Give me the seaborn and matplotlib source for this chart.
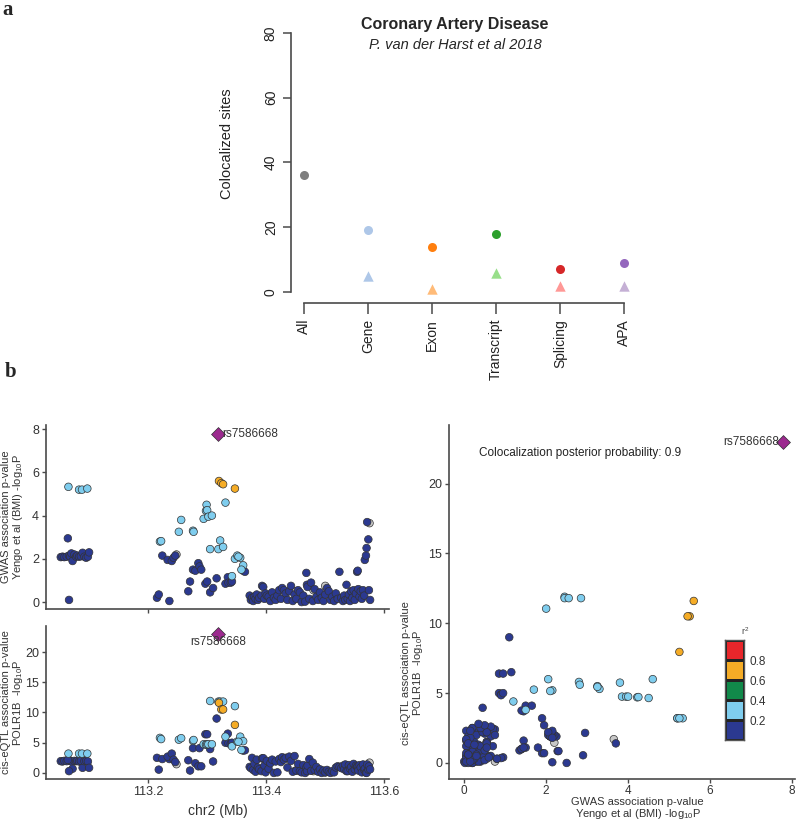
import numpy as np
import pandas as pd
import matplotlib
matplotlib.use('Agg')
import matplotlib.pyplot as plt
from matplotlib.colors import ListedColormap
import seaborn as sns

# ---- panel a : colocalized sites ----
categories = ['All', 'Gene', 'Exon', 'Transcript', 'Splicing', 'APA']
sites_all = [36, 19, 14, 18, 7, 9]
sites_cat = ['Gene', 'Exon', 'Transcript', 'Splicing', 'APA']
sites_tri = [5, 1, 6, 2, 2]
circle_pal = {'All': '#7f7f7f', 'Gene': '#aec7e8', 'Exon': '#ff7f0e',
              'Transcript': '#2ca02c', 'Splicing': '#d62728', 'APA': '#9467bd'}
tri_pal = {'Gene': '#aec7e8', 'Exon': '#ffbb78', 'Transcript': '#98df8a',
           'Splicing': '#ff9896', 'APA': '#c5b0d5'}

# ---- panel b : locus rs7586668 (chr2, Mb) ----
lead_pos, lead_gwas, lead_eqtl = 113.319, 7.78, 23.0

dark_pos = [113.052, 113.055, 113.058, 113.062, 113.066, 113.068, 113.070, 113.072, 113.075, 113.078,
            113.080, 113.083, 113.086, 113.089, 113.092, 113.095, 113.098, 113.100, 113.064, 113.066,
            113.215, 113.218, 113.236, 113.224, 113.233, 113.240, 113.243, 113.246, 113.268, 113.271,
            113.276, 113.280, 113.285, 113.287, 113.290, 113.297, 113.300, 113.305, 113.310, 113.316,
            113.331, 113.335, 113.336, 113.340, 113.342, 113.361, 113.364,
            113.372, 113.374, 113.376, 113.378, 113.380, 113.382, 113.384, 113.386, 113.388, 113.393,
            113.392, 113.395, 113.397, 113.399, 113.401, 113.404, 113.407, 113.410, 113.413, 113.416,
            113.419, 113.422, 113.425, 113.427, 113.430, 113.433, 113.436, 113.439, 113.442, 113.445,
            113.448, 113.451, 113.454, 113.457, 113.460, 113.463, 113.466, 113.468, 113.469, 113.470,
            113.473, 113.476, 113.479, 113.482, 113.485, 113.488, 113.491, 113.494, 113.497, 113.500,
            113.503, 113.506, 113.509, 113.512, 113.515, 113.518, 113.521, 113.524, 113.527, 113.530,
            113.532, 113.534, 113.536, 113.538, 113.540, 113.542, 113.544, 113.546, 113.548, 113.550,
            113.552, 113.554, 113.555, 113.556, 113.558, 113.560, 113.562, 113.564, 113.566, 113.567,
            113.569, 113.570, 113.571, 113.573, 113.574, 113.576]
dark_gwas = [2.08, 2.10, 2.08, 2.10, 2.15, 2.10, 2.25, 1.90, 2.20, 2.10,
             2.15, 2.10, 2.12, 2.28, 2.10, 2.05, 2.10, 2.30, 2.95, 0.10,
             0.20, 0.35, 0.05, 2.15, 1.95, 1.90, 2.05, 2.15, 0.50, 0.95,
             1.50, 1.45, 1.80, 1.65, 1.50, 0.85, 0.95, 0.45, 0.65, 1.10,
             0.85, 1.15, 0.90, 0.90, 0.95, 1.45, 1.40,
             0.30, 0.10, 0.20, 0.05, 0.25, 0.15, 0.35, 0.10, 0.20, 0.75,
             0.30, 0.70, 0.15, 0.40, 0.30, 0.25, 0.05, 0.45, 0.20, 0.10,
             0.30, 0.55, 0.15, 0.65, 0.55, 0.40, 0.10, 0.50, 0.75, 0.05,
             0.35, 0.15, 0.55, 0.45, 0.00, 0.30, 0.02, 1.35, 0.80, 0.70,
             0.15, 0.90, 0.05, 0.60, 0.25, 0.10, 0.45, 0.20, 0.05, 0.35,
             0.65, 0.50, 0.10, 0.25, 0.05, 0.40, 0.15, 1.40, 0.20, 0.05,
             0.30, 0.10, 0.80, 0.15, 0.35, 0.05, 0.50, 0.20, 0.55, 0.10,
             0.40, 1.40, 1.45, 0.60, 0.25, 0.50, 0.15, 0.55, 0.30, 1.95,
             2.15, 2.50, 3.70, 2.90, 0.55, 0.10]
dark_eqtl = [1.95, 1.90, 2.00, 1.95, 2.10, 2.00, 1.90, 0.70, 2.00, 1.95,
             2.00, 1.90, 2.00, 0.85, 1.95, 2.00, 1.90, 0.85, 2.15, 0.30,
             2.50, 0.55, 2.30, 2.30, 2.70, 3.20, 2.20, 1.80, 2.10, 0.40,
             4.10, 1.60, 1.10, 4.10, 1.10, 6.40, 6.40, 3.95, 1.90, 9.00,
             5.00, 6.50, 4.90, 4.85, 5.00, 3.70, 3.75,
             1.00, 0.80, 2.50, 0.50, 1.50, 0.20, 2.20, 0.90, 0.60, 2.40,
             0.30, 2.45, 1.20, 0.10, 2.00, 0.70, 1.60, 2.20, 0.00, 1.90,
             0.10, 2.30, 1.80, 2.60, 2.20, 2.50, 0.90, 2.70, 2.00, 0.20,
             2.80, 0.40, 1.50, 0.30, 0.10, 1.30, 0.00, 0.90, 0.30, 1.20,
             2.30, 0.35, 1.70, 0.50, 1.00, 0.20, 0.60, 0.00, 0.40, 0.10,
             0.50, 0.20, 0.00, 0.30, 0.10, 0.90, 1.10, 1.00, 0.80, 1.20,
             0.60, 1.40, 0.30, 0.30, 1.30, 0.70, 1.00, 0.20, 1.50, 0.60,
             1.20, 1.00, 1.10, 0.40, 1.30, 0.90, 0.10, 1.40, 0.50, 0.70,
             0.05, 0.00, 1.40, 0.55, 1.10, 0.60]

light_pos = [113.065, 113.083, 113.088, 113.097,
             113.220, 113.222, 113.252, 113.256, 113.276, 113.277, 113.294, 113.299, 113.298, 113.300,
             113.302, 113.308, 113.305, 113.319, 113.322, 113.327, 113.347, 113.331, 113.342, 113.351,
             113.356, 113.361, 113.358, 113.353]
light_gwas = [5.33, 5.20, 5.20, 5.25,
              2.80, 2.82, 3.25, 3.80, 3.30, 3.25, 3.85, 4.50, 4.22, 4.25,
              3.95, 4.00, 2.45, 2.45, 2.85, 2.55, 2.00, 4.60, 1.20, 2.15,
              2.05, 1.70, 1.50, 2.10]
light_eqtl = [3.20, 3.20, 3.20, 3.20,
              5.80, 5.60, 5.50, 5.75, 5.30, 5.45, 4.75, 4.65, 4.70, 4.72,
              4.75, 4.75, 11.90, 11.80, 11.80, 11.80, 11.05, 6.00, 4.40, 5.20,
              6.00, 5.25, 3.80, 5.15]

orange_pos = [113.320, 113.324, 113.327, 113.347]
orange_gwas = [5.60, 5.50, 5.45, 5.25]
orange_eqtl = [11.60, 10.50, 10.50, 7.95]

gray_pos = [113.450, 113.480, 113.500, 113.248, 113.575]
gray_gwas = [0.50, 0.55, 0.75, 2.20, 3.65]
gray_eqtl = [0.40, 0.30, 0.10, 1.45, 1.70]

ld_classes = ['0.8-1.0', '0.6-0.8', '0.4-0.6', '0.2-0.4', '0.0-0.2']
ld_colors = ['#e8262b', '#f5ac26', '#11894a', '#7fcdee', '#2b3990']
ld_ticks = ['0.8', '0.6', '0.4', '0.2']

sns.set_style('ticks')
plt.rcParams['font.family'] = ['Liberation Sans', 'DejaVu Sans']
plt.rcParams['mathtext.fontset'] = 'custom'
plt.rcParams['mathtext.rm'] = 'Liberation Sans'
plt.rcParams['mathtext.it'] = 'Liberation Sans:italic'

fig = plt.figure(figsize=(8, 8.21), dpi=100)
W, H = 800.0, 821.0


def px_axes(x0, y0, x1, y1):
    return fig.add_axes([x0 / W, 1 - y1 / H, (x1 - x0) / W, (y1 - y0) / H])


axis_col = '#4a4a4a'

# panel a
ax = px_axes(291, 33, 637, 303)
sns.stripplot(x=categories, y=sites_all, hue=categories, palette=circle_pal, order=categories,
              jitter=False, marker='o', size=6.5, legend=False, ax=ax)
sns.stripplot(x=sites_cat, y=sites_tri, hue=sites_cat, palette=tri_pal, order=categories,
              jitter=False, marker='^', size=7.5, legend=False, ax=ax)
ax.set_xlim(-0.2, 5.2)
ax.set_ylim(-3.4, 80)
sns.despine(ax=ax)
for s in ['left', 'bottom']:
    ax.spines[s].set_color(axis_col)
    ax.spines[s].set_linewidth(1.2)
ax.spines['left'].set_bounds(0, 80)
ax.spines['bottom'].set_bounds(0, 5)
ax.set_yticks([0, 20, 40, 60, 80])
ax.set_yticklabels(['0', '20', '40', '60', '80'], rotation=90, va='center', fontsize=10)
ax.set_xticks(range(len(categories)))
ax.set_xticklabels(categories, rotation=90, fontsize=10)
ax.tick_params(axis='both', colors=axis_col, labelcolor='#222', length=6, width=1.1)
ax.tick_params(axis='x', length=8)
ax.set_xlabel('')
ax.set_ylabel('Colocalized sites', fontsize=10.5, color='#222')
ax.yaxis.set_label_coords(-0.165, 0.59)
fig.text(455 / W, 1 - 24 / H, 'Coronary Artery Disease', ha='center', va='center',
         fontsize=11.5, fontweight='bold')
fig.text(455 / W, 1 - 45 / H, 'P. van der Harst et al 2018', ha='center', va='center',
         fontsize=10.5, style='italic')

fig.text(2 / W, 1 - 10 / H, 'a', fontsize=15, fontweight='bold', family='Liberation Serif',
         ha='left', va='center')
fig.text(5 / W, 1 - 372 / H, 'b', fontsize=15, fontweight='bold', family='Liberation Serif',
         ha='left', va='center')

# panel b data frame
frames = []
for lab, p, g, e in [('NA', gray_pos, gray_gwas, gray_eqtl),
                     ('0.0-0.2', dark_pos, dark_gwas, dark_eqtl),
                     ('0.2-0.4', light_pos, light_gwas, light_eqtl),
                     ('0.6-0.8', orange_pos, orange_gwas, orange_eqtl)]:
    frames.append(pd.DataFrame({'pos': p, 'gwas': g, 'eqtl': e, 'ld': lab}))
snps = pd.concat(frames, ignore_index=True)
pal = dict(zip(ld_classes, ld_colors))
pal['NA'] = '#c8c8c8'
lead = pd.DataFrame({'pos': [lead_pos], 'gwas': [lead_gwas], 'eqtl': [lead_eqtl]})

pt = dict(hue='ld', palette=pal, s=30, edgecolor='#333333', linewidth=0.5, legend=False)
dm = dict(marker='D', s=50, color='#9c2a8f', edgecolor='#333333', linewidth=0.5, legend=False)
lab_kw = dict(fontsize=8, color='#333', linespacing=1.0)
gwas_lab = 'GWAS association p-value\nYengo et al (BMI) -log$_{10}$P'
eqtl_lab = 'cis-eQTL association p-value\nPOLR1B  -log$_{10}$P'


def style_b(a):
    sns.despine(ax=a)
    for s in ['left', 'bottom']:
        a.spines[s].set_color(axis_col)
        a.spines[s].set_linewidth(1.2)
    a.tick_params(axis='both', colors=axis_col, labelcolor='#333', length=3, width=1,
                  labelsize=9, pad=2)


# top-left: GWAS
ax1 = px_axes(46, 425, 389, 609)
sns.scatterplot(data=snps, x='pos', y='gwas', ax=ax1, **pt)
sns.scatterplot(data=lead, x='pos', y='gwas', ax=ax1, **dm)
ax1.text(lead_pos + 0.006, lead_gwas, 'rs7586668', ha='left', va='center', fontsize=8.5, color='#333')
ax1.set_xlim(113.027, 113.608)
ax1.set_ylim(-0.32, 8.19)
ax1.set_xticks([113.2, 113.4, 113.6])
ax1.set_xticklabels([])
ax1.set_yticks([0, 2, 4, 6, 8])
ax1.set_xlabel('')
ax1.set_ylabel(gwas_lab, **lab_kw)
ax1.yaxis.set_label_coords(-0.06, 0.5)
style_b(ax1)

# bottom-left: eQTL
ax2 = px_axes(46, 626, 389, 779)
sns.scatterplot(data=snps, x='pos', y='eqtl', ax=ax2, **pt)
sns.scatterplot(data=lead, x='pos', y='eqtl', ax=ax2, **dm)
ax2.text(lead_pos, 21.6, 'rs7586668', ha='center', va='center', fontsize=8.5, color='#333')
ax2.set_xlim(113.027, 113.608)
ax2.set_ylim(-1.0, 24.3)
ax2.set_xticks([113.2, 113.4, 113.6])
ax2.set_xticklabels(['113.2', '113.4', '113.6'])
ax2.set_yticks([0, 5, 10, 15, 20])
ax2.set_xlabel('chr2 (Mb)', fontsize=10, color='#333')
ax2.set_ylabel(eqtl_lab, **lab_kw)
ax2.yaxis.set_label_coords(-0.062, 0.5)
style_b(ax2)

# right: GWAS vs eQTL
ax3 = px_axes(449, 425, 795, 779)
sns.scatterplot(data=snps, x='gwas', y='eqtl', ax=ax3, **pt)
sns.scatterplot(data=lead, x='gwas', y='eqtl', ax=ax3, **dm)
ax3.text(lead_gwas - 0.1, lead_eqtl, 'rs7586668', ha='right', va='center', fontsize=8.5, color='#333')
ax3.text(0.37, 22.2, 'Colocalization posterior probability: 0.9', ha='left', va='center',
         fontsize=8.5, color='#222')
ax3.set_xlim(-0.37, 8.07)
ax3.set_ylim(-1.15, 24.2)
ax3.set_xticks([0, 2, 4, 6, 8])
ax3.set_yticks([0, 5, 10, 15, 20])
ax3.set_xlabel(gwas_lab, **lab_kw)
ax3.set_ylabel(eqtl_lab, **lab_kw)
ax3.yaxis.set_label_coords(-0.07, 0.3)
style_b(ax3)
ax3.tick_params(axis='x', labelsize=8.5, pad=1)
ax3.xaxis.set_label_coords(0.545, -0.05)

# r2 legend
cax = px_axes(725, 640, 744, 740)
sns.heatmap(np.arange(len(ld_colors)).reshape(-1, 1), cmap=ListedColormap(ld_colors), cbar=False,
            linewidths=1, linecolor='#222222', ax=cax)
cax.set_xticks([])
cax.yaxis.tick_right()
cax.set_yticks(range(1, len(ld_colors)))
cax.set_yticklabels(ld_ticks, rotation=0, fontsize=8.5, color='#333')
cax.tick_params(axis='y', length=0, pad=4)
for s in cax.spines.values():
    s.set_visible(True)
    s.set_color('#555555')
    s.set_linewidth(1)
cax.text(1.05, -0.15, 'r$^2$', transform=cax.transData, fontsize=6.5, color='#444',
         ha='center', va='bottom')

fig.savefig('out.png', dpi=100)
